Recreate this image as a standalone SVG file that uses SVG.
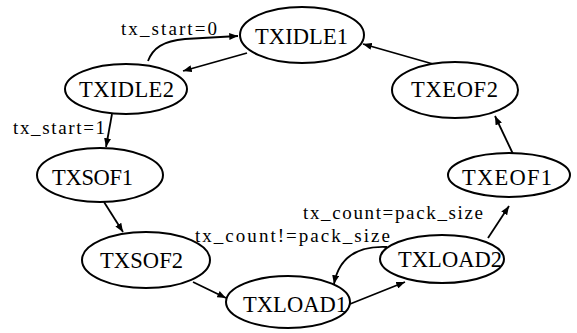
<svg xmlns="http://www.w3.org/2000/svg" width="577" height="333" viewBox="0 0 577 333">
<defs>
<style>
ellipse{fill:#fff;stroke:#000;stroke-width:2}
.e path{fill:none;stroke:#000;stroke-width:1.8;marker-end:url(#ah)}
text{font-family:'Liberation Serif','Times New Roman','DejaVu Serif',serif}
</style>
<marker id="ah" viewBox="0 0 10 8" refX="10" refY="4" markerWidth="9" markerHeight="7" markerUnits="userSpaceOnUse" orient="auto">
<path d="M0,0 L10,4 L0,8 Z" fill="#000"/>
</marker>
</defs>
<rect width="577" height="333" fill="#fff"/>
<g id="connectors" class="e">
<path d="M247,53 L183,71"/>
<path d="M148,61 C153,48 163,41 185,39 L238,36"/>
<path d="M112,114 L106,147"/>
<path d="M104,202 L123,232"/>
<path d="M193,282 L226,298"/>
<path d="M350,304 L405,282"/>
<path d="M387,247 C365,246 340,252 334,284"/>
<path d="M488,238 L509,206"/>
<path d="M513,154 L495,116"/>
<path d="M433,64 L363,44"/>
</g>
<g id="labels" font-size="19" fill="#000">
<text x="121" y="35" textLength="96" lengthAdjust="spacing">tx_start=0</text>
<text x="13" y="134" textLength="92" lengthAdjust="spacing">tx_start=1</text>
<text x="303" y="219" textLength="180" lengthAdjust="spacing">tx_count=pack_size</text>
<text x="195" y="242" textLength="195" lengthAdjust="spacing">tx_count!=pack_size</text>
</g>
<g font-size="22.5" fill="#000" text-anchor="middle">
<g id="TXIDLE1"><ellipse cx="302" cy="35" rx="62" ry="28"/><text x="301.5" y="44" textLength="93" lengthAdjust="spacing">TXIDLE1</text></g>
<g id="TXIDLE2"><ellipse cx="126" cy="89" rx="61" ry="25"/><text x="126.5" y="97" textLength="95" lengthAdjust="spacing">TXIDLE2</text></g>
<g id="TXSOF1"><ellipse cx="100" cy="175" rx="63" ry="27"/><text x="92.5" y="185" textLength="81" lengthAdjust="spacing">TXSOF1</text></g>
<g id="TXSOF2"><ellipse cx="146" cy="260" rx="64" ry="28"/><text x="141.5" y="268" textLength="83" lengthAdjust="spacing">TXSOF2</text></g>
<g id="TXLOAD1"><ellipse cx="288" cy="302" rx="62" ry="26"/><text x="295" y="312" textLength="104" lengthAdjust="spacing">TXLOAD1</text></g>
<g id="TXLOAD2"><ellipse cx="442" cy="259" rx="62" ry="24"/><text x="450" y="267" textLength="104" lengthAdjust="spacing">TXLOAD2</text></g>
<g id="TXEOF1"><ellipse cx="509" cy="175" rx="61" ry="22"/><text x="507" y="185" textLength="90" lengthAdjust="spacing">TXEOF1</text></g>
<g id="TXEOF2"><ellipse cx="455" cy="90" rx="63" ry="28"/><text x="454.5" y="97" textLength="87" lengthAdjust="spacing">TXEOF2</text></g>
</g>
</svg>
